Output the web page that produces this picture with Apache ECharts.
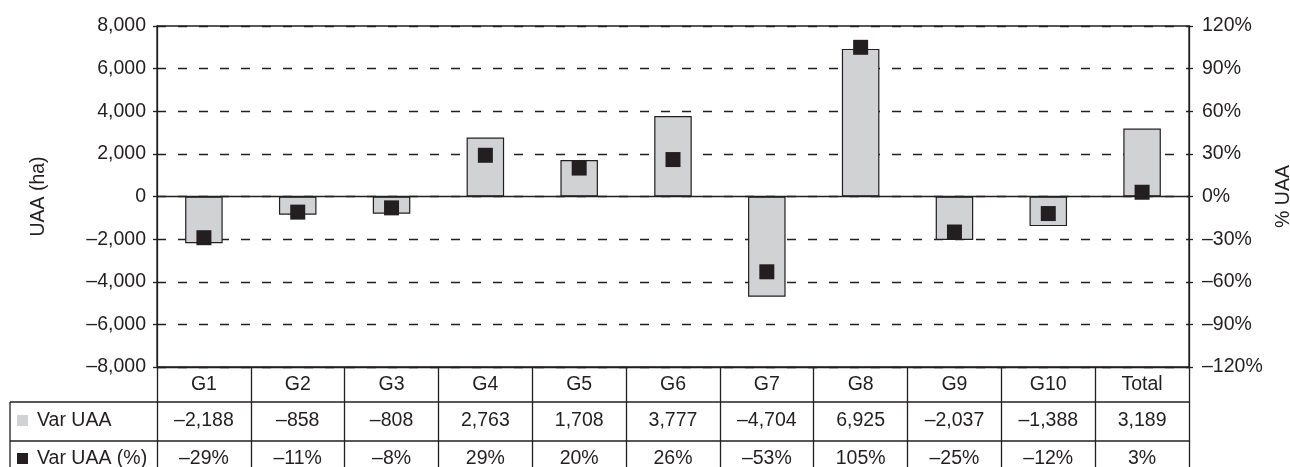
<!DOCTYPE html>
<html>
<head>
<meta charset="utf-8">
<style>
  html, body { margin: 0; padding: 0; background: #fff; }
  #chart { width: 1290px; height: 467px; }
</style>
<script src="https://cdn.jsdelivr.net/npm/echarts@6/dist/echarts.min.js"></script>
</head>
<body>
<div id="chart"></div>
<script>
// Groups, change in utilised agricultural area (ha) and in percent
const categories = ['G1', 'G2', 'G3', 'G4', 'G5', 'G6', 'G7', 'G8', 'G9', 'G10', 'Total'];
const varUAA = [-2188, -858, -808, 2763, 1708, 3777, -4704, 6925, -2037, -1388, 3189];
const varUAAPct = [-29, -11, -8, 29, 20, 26, -53, 105, -25, -12, 3];
const rowNames = ['Var UAA', 'Var UAA (%)'];

const INK = '#231f20';
const BAR = '#d1d2d4';
const FONT = 'Liberation Sans, Arial, Helvetica, sans-serif';
const FS = 19.5;

const dash = s => String(s).replace(/-/g, '\u2013');
const fmtNum = v => dash(v.toLocaleString('en-US'));
const fmtPct = v => dash(v + '%');

const chart = echarts.init(document.getElementById('chart'), null, { renderer: 'canvas' });

const gridBox = { left: 157, right: 101, top: 26, bottom: 100 };

chart.setOption({
  backgroundColor: '#fff',
  animation: false,
  textStyle: { fontFamily: FONT, color: INK },
  grid: Object.assign({
    show: true, borderColor: INK, borderWidth: 1.3, backgroundColor: 'transparent',
    containLabel: false, outerBoundsMode: 'none'
  }, gridBox),
  xAxis: {
    type: 'category',
    data: categories,
    position: 'bottom',
    axisLine: { onZero: false, lineStyle: { color: INK, width: 1.3 } },
    axisTick: { show: true, inside: false, length: 101, lineStyle: { color: INK, width: 1.3 } },
    axisLabel: { color: INK, fontSize: FS, fontFamily: FONT, margin: 8 },
    splitLine: { show: false }
  },
  yAxis: [
    {
      type: 'value',
      min: -8000, max: 8000, interval: 2000,
      name: 'UAA (ha)', nameLocation: 'middle', nameRotate: 90, nameGap: 108,
      nameTextStyle: { color: INK, fontSize: FS, fontFamily: FONT },
      axisLine: { show: true, lineStyle: { color: INK, width: 1.3 } },
      axisTick: { show: true, length: 4, lineStyle: { color: INK, width: 1.3 } },
      axisLabel: { color: INK, fontSize: FS, fontFamily: FONT, margin: 11, formatter: v => fmtNum(v) },
      splitLine: { show: true, lineStyle: { color: INK, width: 1.3, type: [9, 12] } }
    },
    {
      type: 'value',
      min: -120, max: 120, interval: 30,
      name: '% UAA', nameLocation: 'middle', nameRotate: 90, nameGap: 83,
      nameTextStyle: { color: INK, fontSize: FS, fontFamily: FONT },
      axisLine: { show: true, lineStyle: { color: INK, width: 1.3 } },
      axisTick: { show: true, length: 4, lineStyle: { color: INK, width: 1.3 } },
      axisLabel: { color: INK, fontSize: FS, fontFamily: FONT, margin: 13, formatter: v => fmtPct(v) },
      splitLine: { show: false }
    }
  ],
  series: [
    {
      name: rowNames[0],
      type: 'bar',
      yAxisIndex: 0,
      data: varUAA,
      barWidth: '40%',
      itemStyle: { color: BAR, borderColor: INK, borderWidth: 1.2 },
      markLine: {
        silent: true,
        symbol: 'none',
        label: { show: false },
        lineStyle: { color: INK, width: 1.3, type: 'solid' },
        data: [{ yAxis: 0 }]
      }
    },
    {
      name: rowNames[1],
      type: 'scatter',
      yAxisIndex: 1,
      data: varUAAPct,
      symbol: 'rect',
      symbolSize: 15,
      itemStyle: { color: INK, opacity: 1 },
      z: 5
    }
  ]
});

// Data table under the category axis
function drawTable() {
  const W = chart.getWidth();
  const H = chart.getHeight();
  const x0 = 10;
  const xR = W - gridBox.right;
  const rowTop = [402, 441];
  const rowMid = [421, 459];
  const lineStyle = { stroke: INK, lineWidth: 1.3 };
  const els = [];

  // outer left edge of the row-name column
  els.push({ type: 'line', shape: { x1: x0, y1: rowTop[0], x2: x0, y2: H + 2 }, style: lineStyle });
  rowTop.forEach(y => {
    els.push({ type: 'line', shape: { x1: x0, y1: y, x2: xR, y2: y }, style: lineStyle });
  });
  // row names with legend swatches
  [BAR, INK].forEach((c, r) => {
    els.push({ type: 'rect', shape: { x: 17, y: rowMid[r] - 6, width: 11, height: 11 }, style: { fill: c } });
    els.push({
      type: 'text', x: 37, y: rowMid[r],
      style: { text: rowNames[r], fill: INK, font: FS + 'px ' + FONT, textAlign: 'left', textVerticalAlign: 'middle' }
    });
  });
  // values
  const rows = [varUAA.map(fmtNum), varUAAPct.map(fmtPct)];
  categories.forEach((cat, i) => {
    const cx = chart.convertToPixel({ xAxisIndex: 0 }, cat);
    rows.forEach((vals, r) => {
      els.push({
        type: 'text', x: cx, y: rowMid[r],
        style: { text: vals[i], fill: INK, font: FS + 'px ' + FONT, textAlign: 'center', textVerticalAlign: 'middle' }
      });
    });
  });
  chart.setOption({ graphic: [{ type: 'group', children: els }] });
}
drawTable();
</script>
</body>
</html>
